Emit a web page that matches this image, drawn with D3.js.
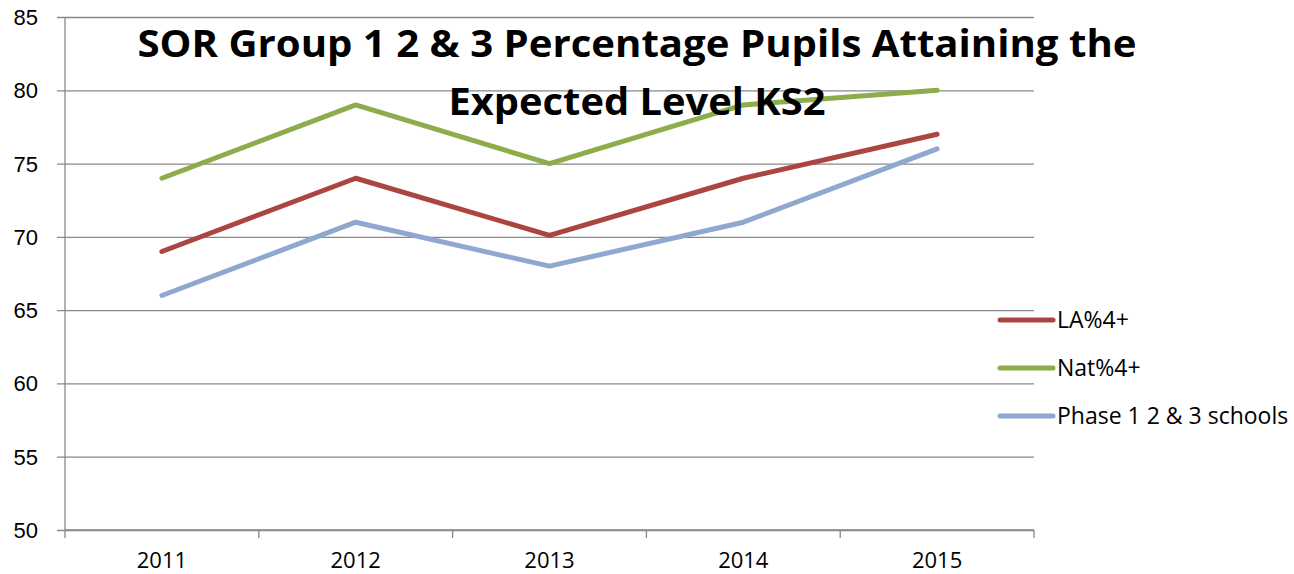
<!DOCTYPE html>
<html lang="en">
<head>
<meta charset="utf-8">
<title>SOR Group KS2</title>
<script src="https://cdn.jsdelivr.net/npm/d3@7"></script>
<style>
	body { margin: 0; background: #fff; }
	svg { display: block; font-family: "Open Sans", Lato, sans-serif; }
</style>
</head>
<body>
<div id="chart"></div>
<script>
	var years = ["2011", "2012", "2013", "2014", "2015"];
	var laValues = [69, 74, 70.1, 74, 77];
	var natValues = [74, 79, 75, 79, 80];
	var phaseValues = [66, 71, 68, 71, 76];
	var seriesNames = ["LA%4+", "Nat%4+", "Phase 1 2 & 3 schools"];
	var yTicks = [50, 55, 60, 65, 70, 75, 80, 85];
	var titleLines = ["SOR Group 1 2 & 3 Percentage Pupils Attaining the", "Expected Level KS2"];

	var colors = ["#AB4542", "#8DAC4C", "#8EA8D0"];
	var series = [laValues, natValues, phaseValues];

	var W = 1294, H = 574;
	var margin = {top: 17, right: 260, bottom: 44, left: 65};
	var width = W - margin.left - margin.right,
		height = H - margin.top - margin.bottom;

	var svg = d3.select("#chart").append("svg")
		.attr("width", W)
		.attr("height", H);

	var g = svg.append("g")
		.attr("transform", "translate(" + margin.left + "," + margin.top + ")");

	var x = d3.scaleBand().domain(years).range([0, width]);
	var y = d3.scaleLinear().domain([50, 85]).range([height, 0]);

	// gridlines + y ticks
	g.append("g")
		.call(d3.axisLeft(y).tickValues(yTicks).tickSize(-width - 8).tickFormat(d3.format("d")))
		.call(function(a) {
			a.select(".domain").remove();
			a.selectAll(".tick line").attr("x1", -8).attr("x2", width).attr("stroke", "#888").attr("stroke-width", 1.3);
			a.selectAll(".tick text").attr("font-size", 22).attr("fill", "#000").attr("x", -27).attr("dy", "0.34em");
		});

	// y axis line
	g.append("line")
		.attr("x1", 0).attr("x2", 0).attr("y1", 0).attr("y2", height)
		.attr("stroke", "#888").attr("stroke-width", 1.3);

	// x axis
	var xTickPos = years.map(function(d) { return x(d); }).concat([width]);
	g.append("g")
		.attr("transform", "translate(0," + height + ")")
		.call(function(a) {
			a.append("line").attr("x1", 0).attr("x2", width).attr("stroke", "#888").attr("stroke-width", 1.3);
			a.selectAll(".xt").data(xTickPos).enter().append("line")
				.attr("x1", function(d) { return d; }).attr("x2", function(d) { return d; })
				.attr("y1", 0).attr("y2", 8)
				.attr("stroke", "#888").attr("stroke-width", 1.3);
			a.selectAll(".xl").data(years).enter().append("text")
				.attr("x", function(d) { return x(d) + x.bandwidth() / 2; })
				.attr("y", 38)
				.attr("text-anchor", "middle")
				.attr("font-size", 22)
				.text(function(d) { return d; });
		});

	var line = d3.line()
		.x(function(d, i) { return x(years[i]) + x.bandwidth() / 2; })
		.y(function(d) { return y(d); });

	series.forEach(function(s, i) {
		g.append("path")
			.datum(s)
			.attr("d", line)
			.attr("fill", "none")
			.attr("stroke", colors[i])
			.attr("stroke-width", 5)
			.attr("stroke-linecap", "round")
			.attr("stroke-linejoin", "round");
	});

	// title
	var titleWidths = [999, 377];
	svg.append("g").selectAll("text").data(titleLines).enter().append("text")
		.attr("x", 637)
		.attr("y", function(d, i) { return 57 + i * 58; })
		.attr("text-anchor", "middle")
		.attr("font-size", 37)
		.attr("font-weight", "bold")
		.attr("textLength", function(d, i) { return titleWidths[i]; })
		.attr("lengthAdjust", "spacingAndGlyphs")
		.text(function(d) { return d; });

	// legend
	var legend = svg.append("g").attr("transform", "translate(1000,320)");
	seriesNames.forEach(function(name, i) {
		var row = legend.append("g").attr("transform", "translate(0," + (i * 48) + ")");
		row.append("line").attr("x1", 0).attr("x2", 53).attr("y1", 0).attr("y2", 0)
			.attr("stroke", colors[i]).attr("stroke-width", 5).attr("stroke-linecap", "round");
		row.append("text").attr("x", 57).attr("y", 8).attr("font-size", 23).text(name);
	});
</script>
</body>
</html>
